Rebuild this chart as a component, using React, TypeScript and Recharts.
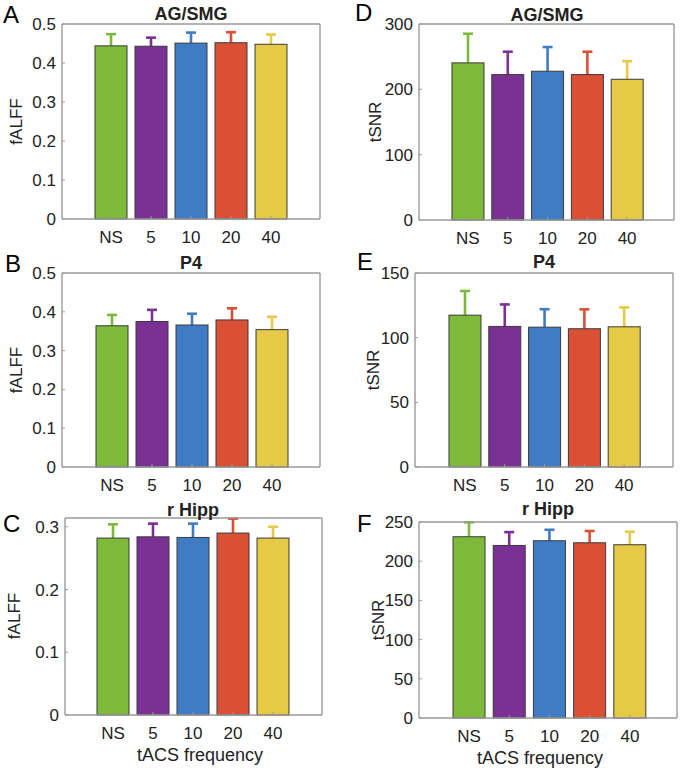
import React from 'react';
import { BarChart, Bar, Line, Cell, XAxis, YAxis } from 'recharts';

const categories = ['NS', '5', '10', '20', '40'];
const barColors = ['#7dba3a', '#7b3194', '#3f7cc4', '#d95035', '#e6c944'];

// fALFF
const fAlffAgSmg = [0.444, 0.443, 0.451, 0.452, 0.448];
const fAlffAgSmgErr = [0.03, 0.022, 0.027, 0.027, 0.025];
const fAlffP4 = [0.364, 0.375, 0.366, 0.379, 0.354];
const fAlffP4Err = [0.028, 0.03, 0.029, 0.03, 0.033];
const fAlffHipp = [0.282, 0.284, 0.283, 0.29, 0.282];
const fAlffHippErr = [0.022, 0.021, 0.022, 0.023, 0.018];

// tSNR
const tsnrAgSmg = [240.5, 222.6, 227.7, 222.6, 215.4];
const tsnrAgSmgErr = [44.6, 35, 37, 35, 27.7];
const tsnrP4 = [117.4, 108.7, 108.1, 106.9, 108.4];
const tsnrP4Err = [18.7, 17, 13.9, 15, 15];
const tsnrHipp = [231.2, 220.1, 226.1, 223.5, 221];
const tsnrHippErr = [18.4, 17, 14, 15, 16.6];

const fAlffTicks05 = [0, 0.1, 0.2, 0.3, 0.4, 0.5];
const fAlffTicks03 = [0, 0.1, 0.2, 0.3];
const tsnrTicks300 = [0, 100, 200, 300];
const tsnrTicks150 = [0, 50, 100, 150];
const tsnrTicks250 = [0, 50, 100, 150, 200, 250];

const AX = '#9a9a9a';
const TXT = '#222';
const FONT = '"Liberation Sans", Arial, Helvetica, sans-serif';

const rows = (means: number[], errs: number[]) =>
  categories.map((cat, i) => ({ cat, mean: means[i], err: errs[i] }));

const BarWithError = (props: any) => {
  const { x, y, width, height, fill, payload } = props;
  if (!height || !payload) return null;
  const pxPerUnit = height / payload.mean;
  const top = y - payload.err * pxPerUnit;
  const cx = x + width / 2;
  return (
    <g>
      <line x1={cx} x2={cx} y1={y} y2={top} stroke={fill} strokeWidth={2.6} />
      <line x1={cx - 5} x2={cx + 5} y1={top} y2={top} stroke={fill} strokeWidth={2.6} />
      <rect x={x} y={y} width={width} height={height} fill={fill} stroke="#3a3a3a" strokeWidth={1} />
    </g>
  );
};

type PanelProps = {
  L: number; T: number; R: number; B: number;
  padL: number; padR: number;
  means: number[]; errs: number[];
  domain: [number, number]; ticks: number[];
};

const YW = 60;
const XH = 40;
const MT = 12; // room above the box for the top tick label

const Panel = ({ L, T, R, B, padL, padR, means, errs, domain, ticks }: PanelProps) => {
  const data = rows(means, errs);
  const w = YW + (R - L) + 1;
  const h = MT + 1 + (B - T) + XH;
  const axisLine = { stroke: AX, strokeWidth: 1.4 };
  return (
    <div style={{ position: 'absolute', left: L - YW, top: T - 1 - MT }}>
      <BarChart width={w} height={h} data={data} margin={{ top: MT, right: 0, bottom: 0, left: 0 }} barCategoryGap="10%">
        <XAxis
          xAxisId="b"
          dataKey="cat"
          height={XH}
          padding={{ left: padL, right: padR }}
          interval={0}
          tickSize={-3}
          tickMargin={15}
          axisLine={axisLine}
          tickLine={{ stroke: AX }}
          tick={{ fill: TXT, fontSize: 17, fontFamily: FONT }}
        />
        <XAxis
          xAxisId="t"
          orientation="top"
          dataKey="cat"
          height={1}
          padding={{ left: padL, right: padR }}
          interval={0}
          tickSize={-3}
          tick={false}
          axisLine={axisLine}
          tickLine={{ stroke: AX }}
        />
        <YAxis
          yAxisId="l"
          type="number"
          domain={domain}
          ticks={ticks}
          interval={0}
          width={YW}
          tickSize={-3}
          tickMargin={9}
          axisLine={axisLine}
          tickLine={{ stroke: AX }}
          tick={{ fill: TXT, fontSize: 17, fontFamily: FONT }}
        />
        <YAxis
          yAxisId="r"
          orientation="right"
          type="number"
          domain={domain}
          ticks={ticks}
          interval={0}
          width={1}
          tickSize={-3}
          tick={false}
          axisLine={axisLine}
          tickLine={{ stroke: AX }}
        />
        <Bar xAxisId="b" yAxisId="l" dataKey="mean" shape={BarWithError} isAnimationActive={false}>
          {data.map((d, i) => (
            <Cell key={d.cat} fill={barColors[i]} />
          ))}
        </Bar>
        <Line xAxisId="t" yAxisId="r" dataKey="mean" stroke="none" dot={false} activeDot={false} isAnimationActive={false} />
      </BarChart>
    </div>
  );
};

const rot = (cx: number, cy: number, text: string) => (
  <text x={cx} y={cy} transform={`rotate(-90 ${cx} ${cy})`} textAnchor="middle" dominantBaseline="central" fontSize={17} fill={TXT}>
    {text}
  </text>
);

export default function App() {
  return (
    <div style={{ position: 'absolute', left: 0, top: 0, width: 685, height: 770, background: '#fff', fontFamily: FONT }}>
      <Panel L={62} T={24} R={320} B={219} padL={29} padR={29} means={fAlffAgSmg} errs={fAlffAgSmgErr} domain={[0, 0.5]} ticks={fAlffTicks05} />
      <Panel L={62} T={273} R={320} B={467} padL={30} padR={28} means={fAlffP4} errs={fAlffP4Err} domain={[0, 0.5]} ticks={fAlffTicks05} />
      <Panel L={65} T={518} R={322} B={715} padL={28} padR={29} means={fAlffHipp} errs={fAlffHippErr} domain={[0, 0.314]} ticks={fAlffTicks03} />
      <Panel L={419} T={24} R={674} B={220} padL={29} padR={27} means={tsnrAgSmg} errs={tsnrAgSmgErr} domain={[0, 300]} ticks={tsnrTicks300} />
      <Panel L={415} T={273} R={673} B={467} padL={30} padR={29} means={tsnrP4} errs={tsnrP4Err} domain={[0, 150]} ticks={tsnrTicks150} />
      <Panel L={419} T={522} R={677} B={718} padL={30} padR={27} means={tsnrHipp} errs={tsnrHippErr} domain={[0, 250]} ticks={tsnrTicks250} />

      <svg width={685} height={770} style={{ position: 'absolute', left: 0, top: 0, pointerEvents: 'none' }} fontFamily={FONT}>
        <g fontSize={18} fontWeight="bold" fill={TXT} textAnchor="middle">
          <text x={191} y={20}>AG/SMG</text>
          <text x={191} y={269}>P4</text>
          <text x={193} y={516}>r Hipp</text>
          <text x={547} y={21}>AG/SMG</text>
          <text x={544} y={268}>P4</text>
          <text x={548} y={515}>r Hipp</text>
        </g>
        {rot(16.5, 121.5, 'fALFF')}
        {rot(16.5, 370, 'fALFF')}
        {rot(14, 616, 'fALFF')}
        {rot(375.5, 122, 'tSNR')}
        {rot(373, 370, 'tSNR')}
        {rot(378.5, 620, 'tSNR')}
        <g fontSize={18} fill={TXT} textAnchor="middle">
          <text x={200} y={761}>tACS frequency</text>
          <text x={540} y={764}>tACS frequency</text>
        </g>
        <g fontSize={24} fill="#000">
          <text x={3} y={23}>A</text>
          <text x={5} y={272}>B</text>
          <text x={3} y={532}>C</text>
          <text x={355} y={21}>D</text>
          <text x={357} y={270}>E</text>
          <text x={357} y={532}>F</text>
        </g>
      </svg>
    </div>
  );
}
